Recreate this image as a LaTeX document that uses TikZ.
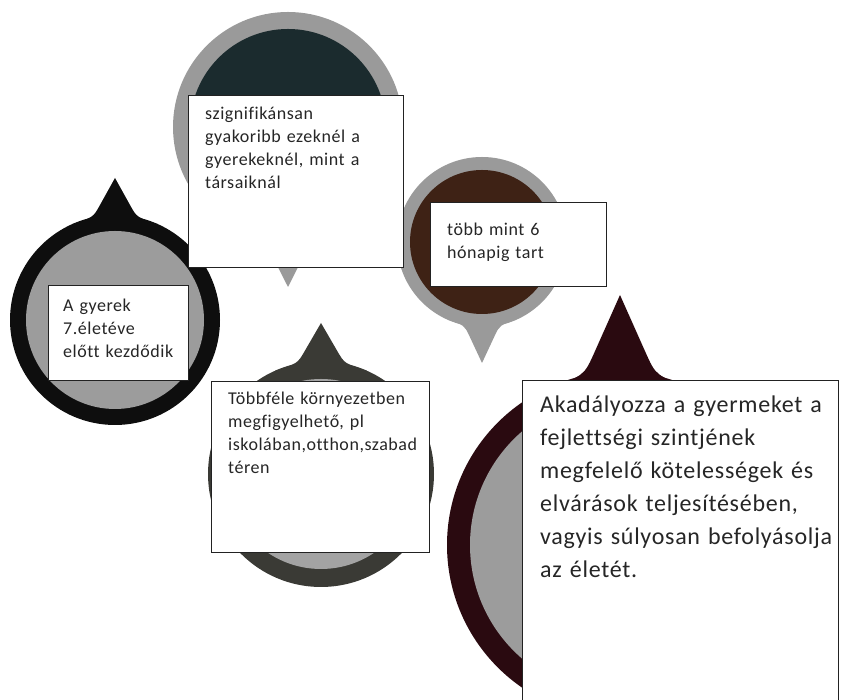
\documentclass[tikz,border=0pt]{standalone}
\usepackage{fontspec}
\setmainfont{Carlito}[LetterSpace=3, WordSpace=0.5, Ligatures=NoCommon]
\usepackage{tikz}
\usetikzlibrary{calc}

\definecolor{rimblack}{HTML}{0E0E0E}
\definecolor{rimgray}{HTML}{9A9A9A}
\definecolor{rimslate}{HTML}{3A3A35}
\definecolor{rimwine}{HTML}{2A0A10}
\definecolor{coregray}{HTML}{9C9C9C}
\definecolor{corelight}{HTML}{A3A3A3}
\definecolor{coreteal}{HTML}{1B2B2E}
\definecolor{corebrown}{HTML}{3E2215}
\definecolor{boxline}{HTML}{222222}
\definecolor{txtgray}{HTML}{262626}

\tikzset{
  textbox/.style={draw=boxline, line width=1pt, fill=white, rectangle, anchor=north west, inner sep=0pt},
  smalltext/.style={anchor=base west, align=left, text width=220, inner sep=0pt, text=txtgray, font=\fontsize{18}{23}\selectfont},
  bigtext/.style={smalltext, text width=310, font=\fontsize{24}{33}\selectfont}
}

\begin{document}
\begin{tikzpicture}[x=1pt,y=1pt]
\useasboundingbox (0,0) rectangle (841,700);

% balloons: centre x/centre y/radius/rim/tip y/pointer side/rim colour/core colour
\foreach \cx/\cy/\r/\t/\tipy/\dir/\rim/\core in {
  115/380/105/16/522/90/rimblack/coregray,
  288/573/115/17/413/270/rimgray/coreteal,
  482/458/85/13/337/270/rimgray/corebrown,
  321/226/113/18/377/90/rimslate/corelight,
  620/155/173/23/405/90/rimwine/coregray} {
  \pgfmathsetmacro{\kax}{\cx+\r*cos(\dir+12)}
  \pgfmathsetmacro{\kay}{\cy+\r*sin(\dir+12)}
  \pgfmathsetmacro{\kbx}{\cx+\r*cos(\dir-12)}
  \pgfmathsetmacro{\kby}{\cy+\r*sin(\dir-12)}
  \fill[\rim] (\cx,\tipy) -- ($(\cx,\tipy)!0.7!(\kax,\kay)$) .. controls (\kax,\kay) .. ($(\cx,\cy)+(\dir+24:\r)$)
    -- ($(\cx,\cy)+(\dir-24:\r)$) .. controls (\kbx,\kby) .. ($(\cx,\tipy)!0.7!(\kbx,\kby)$) -- cycle;
  \fill[\rim] (\cx,\cy) circle[radius=\r];
  \fill[\core] (\cx,\cy) circle[radius=\r-\t];
}

\node[textbox, minimum width=140, minimum height=95] (start) at (48,415) {};
\node[smalltext] (starttxt) at ([shift={(15,-27)}]start.north west) {A gyerek\\7.életéve\\előtt kezdődik};

\node[textbox, minimum width=215, minimum height=172] (often) at (188,605) {};
\node[smalltext] (oftentxt) at ([shift={(17,-25)}]often.north west) {szignifikánsan\\gyakoribb ezeknél a\\gyerekeknél, mint a\\társaiknál};

\node[textbox, minimum width=176, minimum height=84] (lasts) at (430,498) {};
\node[smalltext] (laststxt) at ([shift={(17,-34)}]lasts.north west) {több mint 6\\hónapig tart};

\node[textbox, minimum width=218, minimum height=171] (places) at (211,319) {};
\node[smalltext] (placestxt) at ([shift={(17,-24)}]places.north west) {Többféle környezetben\\megfigyelhető, pl\\iskolában,otthon,szabad\\téren};

\node[textbox, minimum width=316, minimum height=326] (hinders) at (522,320) {};
\node[bigtext] (hinderstxt) at ([shift={(18,-33)}]hinders.north west) {Akadályozza a gyermeket a\\fejlettségi szintjének\\megfelelő kötelességek és\\elvárások teljesítésében,\\vagyis súlyosan befolyásolja\\az életét.};
\end{tikzpicture}
\end{document}
